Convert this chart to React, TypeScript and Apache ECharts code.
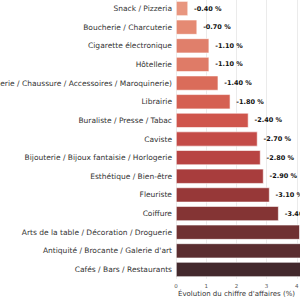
import React, { useEffect, useRef } from "react";
import * as echarts from "echarts";

const categories = [
  "Snack / Pizzeria",
  "Boucherie / Charcuterie",
  "Cigarette électronique",
  "Hôtellerie",
  "Habillement (Prêt-à-porter / Lingerie / Chaussure / Accessoires / Maroquinerie)",
  "Librairie",
  "Buraliste / Presse / Tabac",
  "Caviste",
  "Bijouterie / Bijoux fantaisie / Horlogerie",
  "Esthétique / Bien-être",
  "Fleuriste",
  "Coiffure",
  "Arts de la table / Décoration / Droguerie",
  "Antiquité / Brocante / Galerie d'art",
  "Cafés / Bars / Restaurants",
];

const values = [-0.4, -0.7, -1.1, -1.1, -1.4, -1.8, -2.4, -2.7, -2.8, -2.9, -3.1, -3.4, -4.1, -4.6, -5.2];

const colors = [
  "#e8967f", "#e58a73", "#e07f6b", "#df7b67", "#da6c5a", "#d56052",
  "#cf554c", "#c44b47", "#b84443", "#a83d3d", "#973838", "#843434",
  "#6f3132", "#5a2d30", "#43292d",
];

const xTicks = [0, 1, 2, 3, 4, 5, 6];

export default function App() {
  const ref = useRef<HTMLDivElement>(null);
  useEffect(() => {
    document.body.style.margin = "0";
    const chart = echarts.init(ref.current!, null, { renderer: "svg" });
    chart.setOption({
      animation: false,
      backgroundColor: "#ffffff",
      grid: {
        left: 176,
        top: -0.8,
        width: 30.2 * (xTicks.length - 1),
        height: 279.6,
        containLabel: false,
        outerBoundsMode: "none",
      },
      xAxis: {
        type: "value",
        min: xTicks[0],
        max: xTicks[xTicks.length - 1],
        interval: 1,
        axisLine: { show: false },
        axisTick: { show: false },
        axisLabel: { fontSize: 5.5, color: "#555", fontFamily: "DejaVu Sans", margin: 4 },
        splitLine: { show: true, lineStyle: { color: "#e6e6e6", width: 0.8 } },
      },
      yAxis: {
        type: "category",
        data: categories,
        inverse: true,
        axisLine: { show: false },
        axisTick: { show: false },
        axisLabel: { fontSize: 7.5, color: "#333", fontFamily: "DejaVu Sans", margin: 4 },
        splitLine: { show: false },
      },
      graphic: [
        {
          type: "text",
          left: 178,
          top: 290.5,
          style: {
            text: "Évolution du chiffre d'affaires (%)",
            fontSize: 7,
            fill: "#333",
            fontFamily: "DejaVu Sans",
          },
        },
      ],
      series: [
        {
          type: "bar",
          barCategoryGap: "20%",
          data: values.map((v, i) => ({
            value: Math.abs(v),
            itemStyle: { color: colors[i], borderColor: "#ffffff", borderWidth: 0.6 },
          })),
          label: {
            show: true,
            position: "right",
            distance: 6,
            formatter: (p: any) => values[p.dataIndex].toFixed(2) + " %",
            fontSize: 6.5,
            fontWeight: "bold",
            color: "#111",
            fontFamily: "DejaVu Sans",
          },
        },
      ],
    });
    return () => chart.dispose();
  }, []);
  return <div ref={ref} style={{ width: 300, height: 300 }} />;
}
